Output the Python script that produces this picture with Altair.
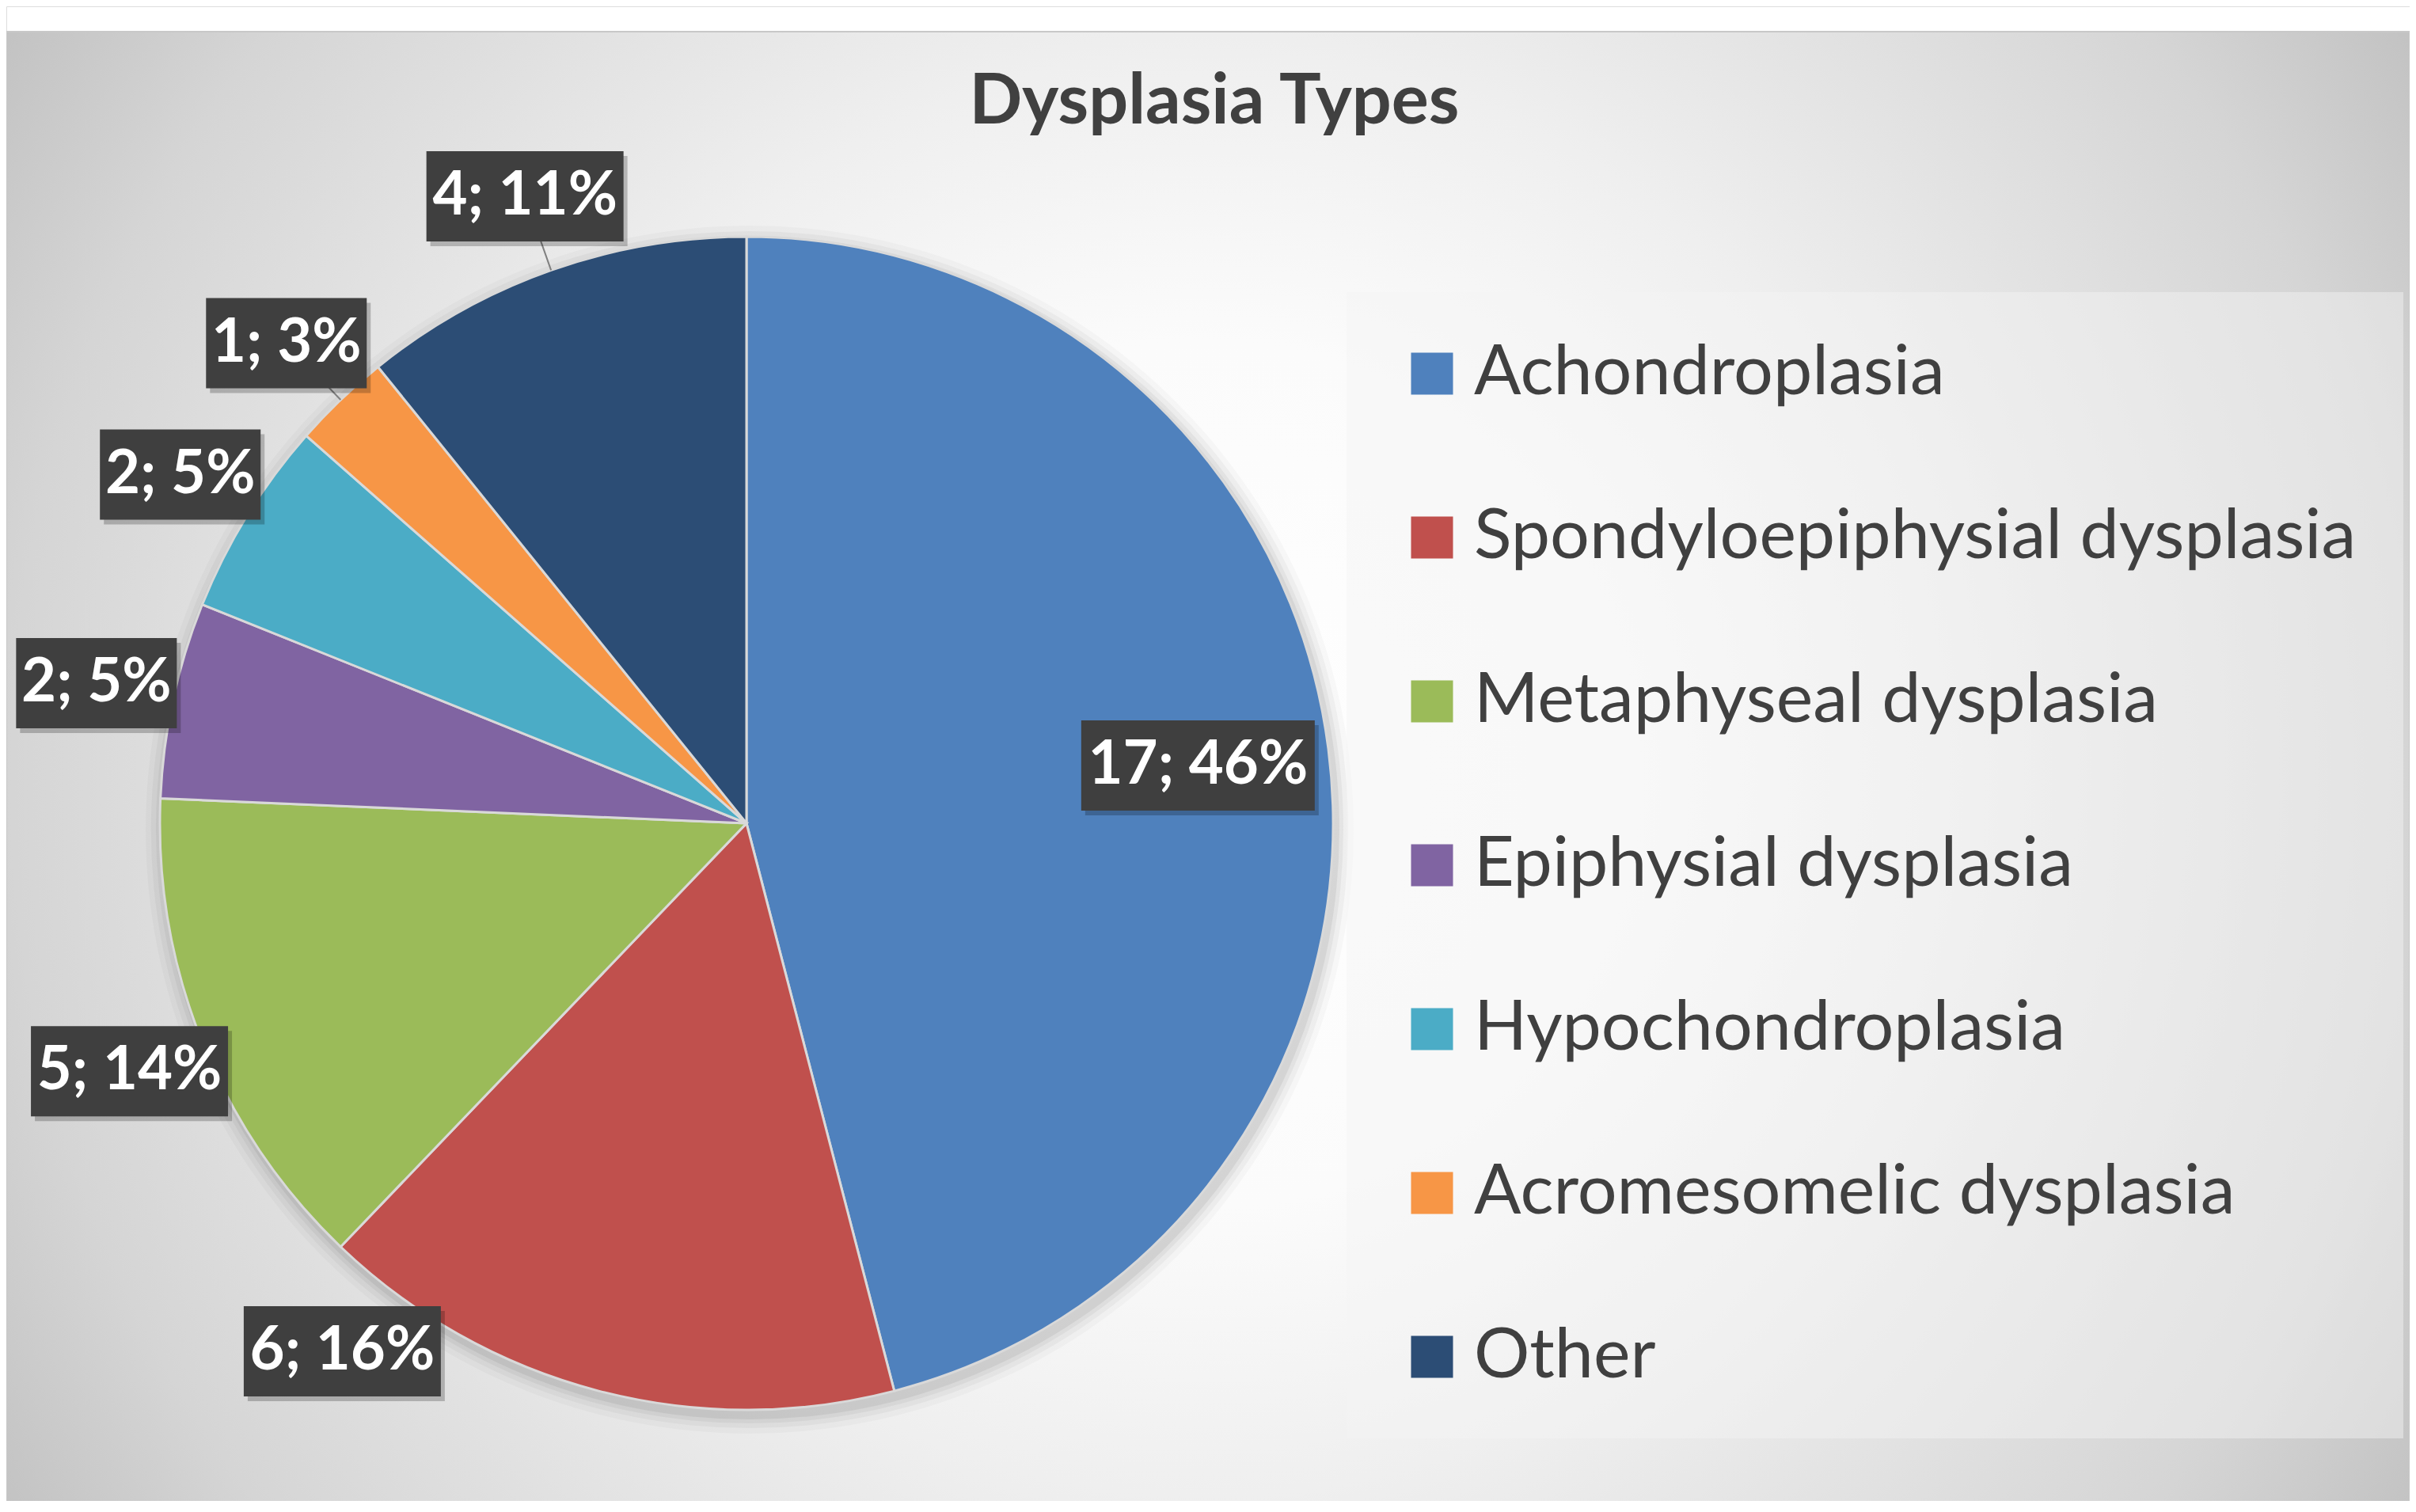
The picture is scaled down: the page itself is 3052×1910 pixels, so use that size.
import altair as alt
import pandas as pd

# ---- data ----
categories = [
    "Achondroplasia",
    "Spondyloepiphysial dysplasia",
    "Metaphyseal dysplasia",
    "Epiphysial dysplasia",
    "Hypochondroplasia",
    "Acromesomelic dysplasia",
    "Other",
]
counts = [17, 6, 5, 2, 2, 1, 4]
colors = ["#4F81BD", "#C0504D", "#9BBB59", "#8064A2", "#4BACC6", "#F79646", "#2C4D75"]
title_text = "Dysplasia Types"

df = pd.DataFrame({"category": categories, "value": counts, "order": list(range(len(categories)))})

# ---- layout constants (pixels, chart coordinates) ----
W, H = 3036, 1888
CX, CY, R = 935, 1032, 741
R_IN, R_OUT = 575, 840
LABEL_Y_MAX = 1699
FONT = "Lato"
TXT = "#404040"

base = alt.Chart(df)

bg = alt.Chart(alt.Data(values=[{}])).mark_rect(
    fill={
        "gradient": "radial",
        "x1": 0.5, "y1": 0.5, "r1": 0,
        "x2": 0.5, "y2": 0.5, "r2": 0.6,
        "stops": [
            {"offset": 0, "color": "#ffffff"},
            {"offset": 0.3, "color": "#fbfbfb"},
            {"offset": 0.5, "color": "#efefef"},
            {"offset": 0.83, "color": "#d5d5d5"},
            {"offset": 1, "color": "#c0c0c0"},
        ],
    },
    stroke="#c8c8c8", strokeWidth=2,
).encode(x=alt.value(0), x2=alt.value(W), y=alt.value(32), y2=alt.value(H + 20))

shadows = []
for grow, op in [(22, 0.025), (15, 0.035), (9, 0.045), (4, 0.06)]:
    shadows.append(
        alt.Chart(alt.Data(values=[{}])).mark_arc(
            radius=R + grow, theta=0, theta2=6.2832, color="#000000", opacity=op
        ).encode(x=alt.value(CX + 4), y=alt.value(CY + 8))
    )

pie = base.mark_arc(radius=R, stroke="#d9d9d9", strokeWidth=3).encode(
    theta=alt.Theta("value:Q", stack=True),
    order=alt.Order("order:Q"),
    color=alt.Color(
        "category:N",
        scale=alt.Scale(domain=categories, range=colors),
        legend=alt.Legend(
            orient="none",
            legendX=1693,
            legendY=361,
            title=None,
            symbolType="square",
            symbolSize=2809,
            symbolStrokeWidth=0,
            symbolOpacity=1,
            symbolOffset=5,
            labelFont=FONT,
            labelFontSize=88,
            labelColor=TXT,
            labelOffset=9,
            labelLimit=3000,
            rowPadding=119,
            padding=59,
            fillColor="rgba(245,245,245,0.46)",
        ),
    ),
    x=alt.value(CX),
    y=alt.value(CY),
)

lab = base.transform_window(
    cum="sum(value)", sort=[alt.SortField("order")], frame=[None, 0]
).transform_joinaggregate(total="sum(value)").transform_calculate(
    mid="2*PI*(datum.cum - datum.value/2)/datum.total",
    inside="datum.value/datum.total > 0.3",
    r=f"datum.inside ? {R_IN} : {R_OUT}",
    lx0=f"{CX} + datum.r*sin(datum.mid)",
    ly0=f"{CY} - datum.r*cos(datum.mid)",
    clamped=f"datum.ly0 > {LABEL_Y_MAX}",
    ly=f"min(datum.ly0, {LABEL_Y_MAX})",
    lx=f"datum.clamped ? {CX} + (sin(datum.mid) < 0 ? -1 : 1)*sqrt(datum.r*datum.r - pow(datum.ly-{CY},2)) : datum.lx0",
    label="datum.value + '; ' + round(100*datum.value/datum.total) + '%'",
    hw="(46*length(datum.label) - 27)/2",
    bx1="datum.lx - datum.hw",
    bx2="datum.lx + datum.hw",
    by1="datum.ly - 57",
    by2="datum.ly + 57",
    sx1="datum.bx1 + 5",
    sx2="datum.bx2 + 5",
    sy1="datum.by1 + 6",
    sy2="datum.by2 + 6",
    ex=f"{CX} + {R}*sin(datum.mid)",
    ey=f"{CY} - {R}*cos(datum.mid)",
)

leaders = lab.transform_filter("!datum.inside && !datum.clamped").mark_rule(
    color="#7f7f7f", strokeWidth=2
).encode(
    x=alt.X("ex:Q", scale=None), y=alt.Y("ey:Q", scale=None),
    x2="lx:Q", y2="ly:Q",
)

box_shadow = lab.mark_rect(color="#000000", opacity=0.22).encode(
    x=alt.X("sx1:Q", scale=None), x2="sx2:Q",
    y=alt.Y("sy1:Q", scale=None), y2="sy2:Q",
)

boxes = lab.mark_rect(color="#3f3f3f").encode(
    x=alt.X("bx1:Q", scale=None), x2="bx2:Q",
    y=alt.Y("by1:Q", scale=None), y2="by2:Q",
)

texts = lab.mark_text(
    font=FONT, fontSize=76, fontWeight="bold", color="#ffffff", align="center", baseline="middle"
).encode(
    x=alt.X("lx:Q", scale=None), y=alt.Y("ly:Q", scale=None), text="label:N"
)

title = alt.Chart(alt.Data(values=[{"t": title_text}])).mark_text(
    font=FONT, fontSize=88, fontWeight="bold", color=TXT, align="center", baseline="alphabetic"
).encode(x=alt.value(1526), y=alt.value(148), text="t:N")

chart = alt.layer(bg, *shadows, pie, leaders, box_shadow, boxes, texts, title).properties(
    width=W, height=H, autosize=alt.AutoSizeParams(type="none"), padding=0
).configure_view(stroke=None).configure(background="#ffffff")

chart.save("out.html", embed_options={"renderer": "svg", "actions": False})
